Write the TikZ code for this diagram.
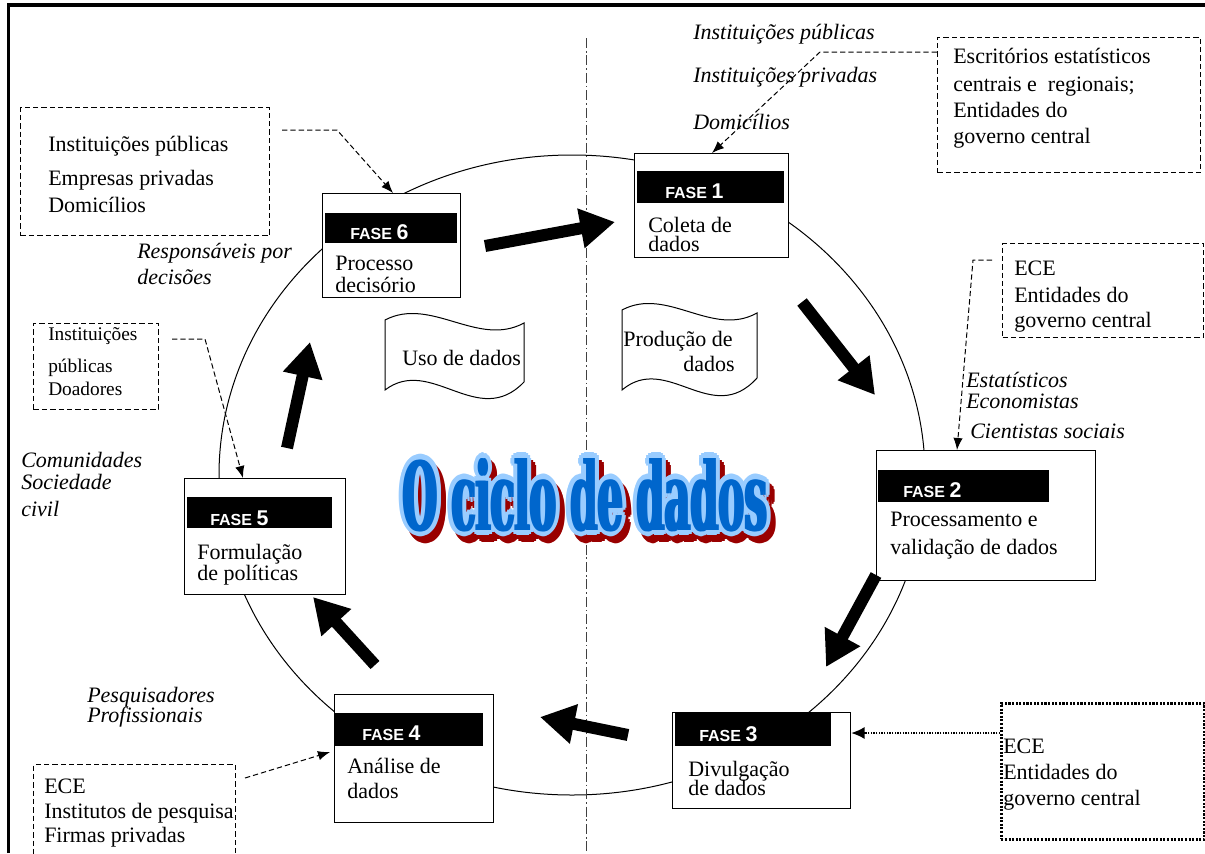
\documentclass[tikz,border=0pt]{standalone}
\usepackage{fontspec}
\setmainfont{Liberation Serif}
\newfontfamily\sansb{Liberation Sans}
\newfontfamily\titlefont{DejaVu Serif}
\usetikzlibrary{arrows.meta,calc}
\definecolor{titleblue}{HTML}{0066CC}
\definecolor{titlelight}{HTML}{99CCFF}
\definecolor{titlered}{HTML}{990000}
\newcommand\ttltext{\resizebox{273pt}{54pt}{\titlefont\bfseries O ciclo de dados}}
\newcommand\fase[1]{{\sansb\bfseries\fontsize{12}{12}\selectfont FASE \fontsize{16}{16}\selectfont #1}}
\begin{document}
\begin{tikzpicture}[x=0.75pt,y=-0.75pt,
  txt/.style={anchor=base west, inner sep=0, font=\fontsize{16.5}{19}\selectfont},
  itxt/.style={anchor=base west, inner sep=0, font=\fontsize{16.5}{19}\selectfont\itshape},
  stxt/.style={anchor=base west, inner sep=0, font=\fontsize{14.5}{17}\selectfont},
  phasebox/.style={draw, fill=white, line width=0.9pt, anchor=north west, inner sep=0},
  phasebar/.style={fill=black, anchor=north west, inner sep=0},
  phaselbl/.style={anchor=base west, inner sep=0, text=white},
  callout/.style={draw, dash pattern=on 4pt off 2.25pt, line width=0.75pt, anchor=north west, inner sep=0},
  dotbox/.style={draw, dash pattern=on 1.6pt off 1.1pt, line width=2pt, anchor=north west, inner sep=0},
  dcon/.style={dash pattern=on 4pt off 2.25pt, line width=0.75pt, -{Latex[length=9pt,width=7pt]}},
  dotcon/.style={dash pattern=on 1.1pt off 0.9pt, line width=1.3pt, -{Latex[length=10pt,width=9pt]}},
  bigarrow/.style={line width=9pt, -{Triangle[length=26pt 0 0,width=28.5pt 0 0]}},
  wave/.style={line width=0.75pt},
  ttl/.style={anchor=base west, inner sep=0},
]
\clip (0,0) rectangle (1205,853);
% frame
\draw[line width=2.4pt] (8.5,853) -- (8.5,5) -- (1205,5);
% cycle ellipse and divider
\draw[line width=0.75pt] (572,475) ellipse [x radius=264.75pt, y radius=240pt];
\draw[line width=0.75pt, black!75, dash pattern=on 7.5pt off 2.2pt on 1.2pt off 2.2pt] (586,38) -- (586,853);

% flags
\draw[wave] (385,320) .. controls (431,296) and (478,348) .. (524,323) -- (524,382)
  .. controls (478,430) and (431,355) .. (385,390) -- cycle;
\draw[wave] (622,310) .. controls (667,286) and (712,338) .. (757,313) -- (757,378)
  .. controls (712,428) and (667,352) .. (622,390) -- cycle;
\node[txt] (uso) at (402,365) {Uso de dados};
\node[txt] (prod1) at (623,346) {Produção de};
\node[txt] (prod2) at (683,371) {dados};

% title: shadow, light outline, heavy blue face
\foreach \a [count=\i] in {-60,-30,...,150}{
  \node[ttl, text=titlered] (sh\i) at ($(408,537)+(\a:5.5)$) {\ttltext};
}
\foreach \a [count=\i] in {0,30,...,330}{
  \node[ttl, text=titlelight] (ol\i) at ($(403,530)+(\a:5.5)$) {\ttltext};
}
\foreach \d [count=\i] in {-1.4,1.4}{
  \node[ttl, text=titleblue] (bl\i) at ($(403,530)+(\d,0)$) {\ttltext};
}
\node[ttl, text=titleblue] (title) at (403,530.5) {\ttltext};

% phase boxes
\node[phasebox, minimum width=138*0.75pt, minimum height=104*0.75pt] (b6) at (322,193) {};
\node[phasebar, minimum width=132*0.75pt, minimum height=30*0.75pt] (bar6) at (325,213) {};
\node[phaselbl] (f6) at (350,239) {\fase{6}};
\node[txt] (t6a) at (335,270) {Processo};
\node[txt] (t6b) at (335,292) {decisório};

\node[phasebox, minimum width=154*0.75pt, minimum height=104*0.75pt] (b1) at (634,153) {};
\node[phasebar, minimum width=147*0.75pt, minimum height=32*0.75pt] (bar1) at (637,171) {};
\node[phaselbl] (f1) at (665,198) {\fase{1}};
\node[txt] (t1a) at (648,232) {Coleta de};
\node[txt] (t1b) at (648,251) {dados};

\node[phasebox, minimum width=219*0.75pt, minimum height=130*0.75pt] (b2) at (876,450) {};
\node[phasebar, minimum width=171*0.75pt, minimum height=32*0.75pt] (bar2) at (878,470) {};
\node[phaselbl] (f2) at (903,497) {\fase{2}};
\node[txt] (t2a) at (890,526) {Processamento e};
\node[txt] (t2b) at (890,554) {validação de dados};

\node[phasebox, minimum width=178*0.75pt, minimum height=96*0.75pt] (b3) at (672,712) {};
\node[phasebar, minimum width=156*0.75pt, minimum height=34*0.75pt] (bar3) at (675,712) {};
\node[phaselbl] (f3) at (699,741) {\fase{3}};
\node[txt] (t3a) at (688,776) {Divulgação};
\node[txt] (t3b) at (688,795) {de dados};

\node[phasebox, minimum width=159*0.75pt, minimum height=128*0.75pt] (b4) at (334,694) {};
\node[phasebar, minimum width=149*0.75pt, minimum height=33*0.75pt] (bar4) at (334,713) {};
\node[phaselbl] (f4) at (362,740) {\fase{4}};
\node[txt] (t4a) at (347,773) {Análise de};
\node[txt] (t4b) at (347,798) {dados};

\node[phasebox, minimum width=161*0.75pt, minimum height=116*0.75pt] (b5) at (184,478) {};
\node[phasebar, minimum width=145*0.75pt, minimum height=31*0.75pt] (bar5) at (187,497) {};
\node[phaselbl] (f5) at (210,525) {\fase{5}};
\node[txt] (t5a) at (197,559) {Formulação};
\node[txt] (t5b) at (197,580) {de políticas};

% big arrows
\coordinate (a1s) at (485,246); \coordinate (a1e) at (615,222);
\coordinate (a2s) at (802,302); \coordinate (a2e) at (875,395);
\coordinate (a3s) at (876,575); \coordinate (a3e) at (826,667);
\coordinate (a4s) at (628,735); \coordinate (a4e) at (540,717);
\coordinate (a5s) at (375,665); \coordinate (a5e) at (313,597);
\coordinate (a6s) at (287,448); \coordinate (a6e) at (310,342);
\draw[bigarrow] (a1s) -- (a1e);
\draw[bigarrow] (a2s) -- (a2e);
\draw[bigarrow] (a3s) -- (a3e);
\draw[bigarrow] (a4s) -- (a4e);
\draw[bigarrow] (a5s) -- (a5e);
\draw[bigarrow] (a6s) -- (a6e);

% callout boxes
\node[callout, minimum width=263*0.75pt, minimum height=135*0.75pt] (d1) at (937,37) {};
\node[txt] at (953,63) {Escritórios estatísticos};
\node[txt] at (953,91) {centrais e\ \ regionais;};
\node[txt] at (953,117) {Entidades do};
\node[txt] at (953,143) {governo central};

\node[callout, minimum width=249*0.75pt, minimum height=128*0.75pt] (d2) at (20,107) {};
\node[txt] at (48,151) {Instituições públicas};
\node[txt] at (48,185) {Empresas privadas};
\node[txt] at (48,212) {Domicílios};

\node[callout, minimum width=125*0.75pt, minimum height=86*0.75pt] (d3) at (33,323) {};
\node[stxt] at (48,340) {Instituições};
\node[stxt] at (48,372) {públicas};
\node[stxt] at (48,395) {Doadores};

\node[callout, minimum width=201*0.75pt, minimum height=94*0.75pt] (d4) at (1002,243) {};
\node[txt] at (1014,275) {ECE};
\node[txt] at (1014,302) {Entidades do};
\node[txt] at (1014,327) {governo central};

\node[callout, minimum width=202*0.75pt, minimum height=120*0.75pt] (d5) at (33,764) {};
\node[txt] at (44,793) {ECE};
\node[txt] at (44,818) {Institutos de pesquisa};
\node[txt] at (44,842) {Firmas privadas};

\node[dotbox, minimum width=203*0.75pt, minimum height=136*0.75pt] (d6) at (1000,702) {};
\node[txt] at (1003,753) {ECE};
\node[txt] at (1003,779) {Entidades do};
\node[txt] at (1003,805) {governo central};

% italic labels
\node[itxt] at (693,39) {Instituições públicas};
\node[itxt] at (693,82) {Instituições privadas};
\node[itxt] at (693,129) {Domicílios};
\node[itxt] at (137,258) {Responsáveis por};
\node[itxt] at (137,284) {decisões};
\node[itxt] at (21,467) {Comunidades};
\node[itxt] at (21,489) {Sociedade};
\node[itxt] at (21,516) {civil};
\node[itxt] at (966,387) {Estatísticos};
\node[itxt] at (966,408) {Economistas};
\node[itxt] at (970,438) {Cientistas sociais};
\node[itxt] at (87,702) {Pesquisadores};
\node[itxt] at (87,722) {Profissionais};

% connectors
\coordinate (k1) at (820,52); \coordinate (t1) at (712,0);
\draw[dcon] (d1.west |- k1) -- (k1) -- (b1.north -| t1);
\coordinate (k2a) at (282,130); \coordinate (k2) at (337,130); \coordinate (t2) at (393,0);
\draw[dcon] (k2a) -- (k2) -- (b6.north -| t2);
\coordinate (k3a) at (172,339); \coordinate (k3) at (205,339); \coordinate (t3) at (243,0);
\draw[dcon] (k3a) -- (k3) -- (b5.north -| t3);
\coordinate (k4a) at (992,260); \coordinate (k4) at (973,260); \coordinate (t4) at (957,0);
\draw[dcon] (k4a) -- (k4) -- (b2.north -| t4);
\coordinate (k5) at (245,778); \coordinate (t5) at (0,752);
\draw[dcon] (k5) -- ([xshift=-3pt]b4.west |- t5);
\coordinate (k6) at (0,733);
\draw[dotcon] (d6.west |- k6) -- (b3.east |- k6);
\end{tikzpicture}
\end{document}
